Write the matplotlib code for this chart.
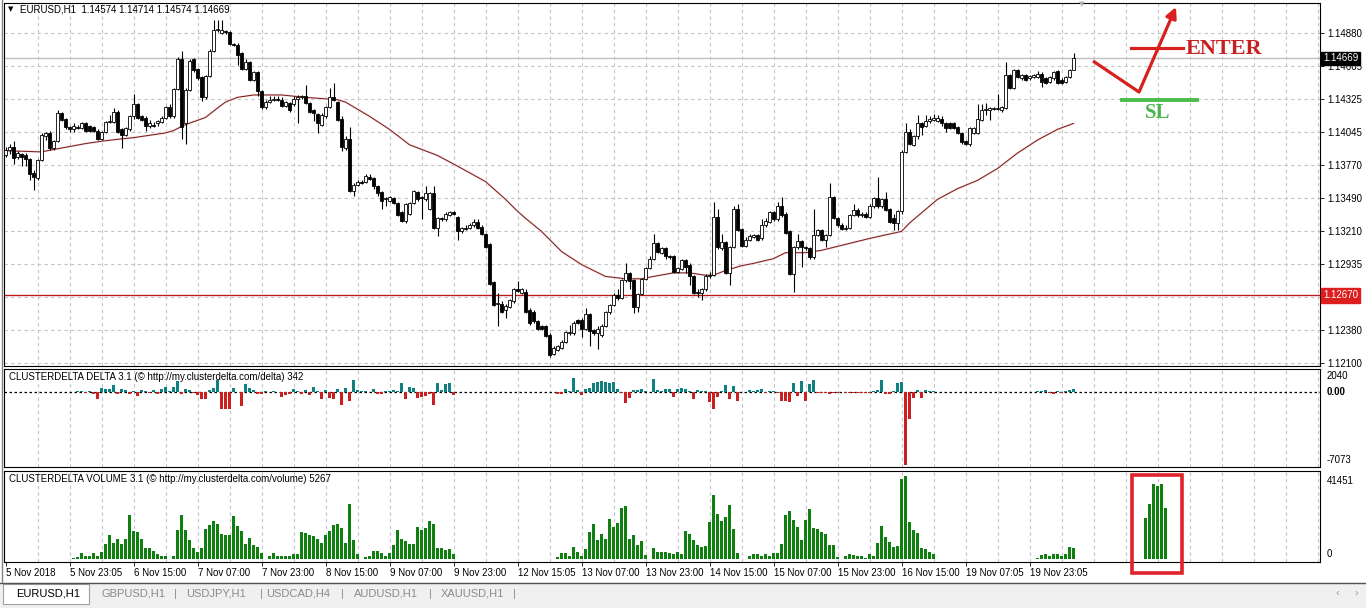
import numpy as np
import matplotlib
matplotlib.use("Agg")
import matplotlib.pyplot as plt
import matplotlib.transforms as mtransforms
from matplotlib.lines import Line2D
from matplotlib.patches import Rectangle, FancyArrowPatch

plt.rcParams['font.family'] = ['Liberation Sans', 'DejaVu Sans']

# ---------------- data ----------------
title_text = "EURUSD,H1  1.14574 1.14714 1.14574 1.14669"
delta_title = "CLUSTERDELTA DELTA 3.1 (\u00a9 http://my.clusterdelta.com/delta) 342"
volume_title = "CLUSTERDELTA VOLUME 3.1 (\u00a9 http://my.clusterdelta.com/volume) 5267"

opens = [
    1.1385, 1.1390, 1.1392, 1.1384, 1.1386, 1.1385, 1.1382, 1.1370, 1.1366, 1.1381,
    1.1401, 1.1404, 1.1391, 1.1397, 1.1421, 1.1416, 1.1409, 1.1407, 1.1409, 1.1408,
    1.1412, 1.1410, 1.1409, 1.1406, 1.1399, 1.1405, 1.1413, 1.1413, 1.1422, 1.1407,
    1.1402, 1.1407, 1.1418, 1.1428, 1.1418, 1.1417, 1.1410, 1.1411, 1.1412, 1.1413,
    1.1417, 1.1426, 1.1418, 1.1441, 1.1466, 1.1412, 1.1440, 1.1466, 1.1458, 1.1451,
    1.1434, 1.1452, 1.1473, 1.1491, 1.1488, 1.1490, 1.1489, 1.1479, 1.1478, 1.1471,
    1.1458, 1.1464, 1.1449, 1.1455, 1.1439, 1.1426, 1.1430, 1.1432, 1.1433, 1.1432,
    1.1427, 1.1429, 1.1428, 1.1433, 1.1434, 1.1435, 1.1429, 1.1423, 1.1420, 1.1411,
    1.1418, 1.1426, 1.1434, 1.1430, 1.1416, 1.1391, 1.1399, 1.1355, 1.1360, 1.1363,
    1.1363, 1.1367, 1.1366, 1.1359, 1.1354, 1.1348, 1.1347, 1.1349, 1.1345, 1.1337,
    1.1330, 1.1336, 1.1345, 1.1354, 1.1350, 1.1348, 1.1340, 1.1353, 1.1324, 1.1332,
    1.1331, 1.1335, 1.1337, 1.1333, 1.1321, 1.1324, 1.1324, 1.1326, 1.1329, 1.1325,
    1.1319, 1.1310, 1.1278, 1.1260, 1.1260, 1.1255, 1.1257, 1.1262, 1.1272, 1.1269,
    1.1270, 1.1255, 1.1253, 1.1245, 1.1241, 1.1241, 1.1234, 1.1218, 1.1221, 1.1223,
    1.1228, 1.1235, 1.1235, 1.1246, 1.1246, 1.1239, 1.1251, 1.1238, 1.1235, 1.1234,
    1.1241, 1.1253, 1.1259, 1.1267, 1.1265, 1.1280, 1.1286, 1.1280, 1.1257, 1.1268,
    1.1281, 1.1290, 1.1298, 1.1311, 1.1303, 1.1307, 1.1300, 1.1300, 1.1287, 1.1289,
    1.1297, 1.1293, 1.1283, 1.1270, 1.1269, 1.1272, 1.1283, 1.1284, 1.1333, 1.1307,
    1.1312, 1.1286, 1.1308, 1.1340, 1.1323, 1.1309, 1.1314, 1.1316, 1.1318, 1.1315,
    1.1326, 1.1329, 1.1337, 1.1331, 1.1342, 1.1336, 1.1321, 1.1285, 1.1308, 1.1313,
    1.1308, 1.1307, 1.1299, 1.1318, 1.1322, 1.1314, 1.1318, 1.1350, 1.1332, 1.1326,
    1.1323, 1.1324, 1.1335, 1.1339, 1.1335, 1.1336, 1.1333, 1.1342, 1.1349, 1.1342,
    1.1348, 1.1340, 1.1332, 1.1328, 1.1338, 1.1388, 1.1405, 1.1394, 1.1401, 1.1412,
    1.1410, 1.1414, 1.1415, 1.1414, 1.1416, 1.1412, 1.1412, 1.1412, 1.1409, 1.1404,
    1.1397, 1.1395, 1.1404, 1.1404, 1.1415, 1.1423, 1.1423, 1.1424, 1.1424, 1.1423,
    1.1425, 1.1453, 1.1442, 1.1457, 1.1450, 1.1453, 1.1450, 1.1451, 1.1451, 1.1454,
    1.1450, 1.1447, 1.1450, 1.1456, 1.1449, 1.1447, 1.1451, 1.14574,
]
highs = [
    1.1392, 1.1395, 1.1397, 1.1389, 1.1387, 1.1387, 1.1383, 1.1373, 1.1382, 1.1404,
    1.1405, 1.1406, 1.1398, 1.1423, 1.1422, 1.1417, 1.1410, 1.1412, 1.1411, 1.1413,
    1.1413, 1.1411, 1.1410, 1.1407, 1.1406, 1.1414, 1.1419, 1.1425, 1.1423, 1.1408,
    1.1409, 1.1419, 1.1437, 1.1429, 1.1419, 1.1418, 1.1415, 1.1413, 1.1415, 1.1418,
    1.1427, 1.1428, 1.1442, 1.1468, 1.1473, 1.1442, 1.1466, 1.1467, 1.1459, 1.1452,
    1.1453, 1.1475, 1.1499, 1.1499, 1.1499, 1.1491, 1.1490, 1.1480, 1.1480, 1.1472,
    1.1466, 1.1465, 1.1456, 1.1456, 1.1440, 1.1432, 1.1435, 1.1435, 1.1435, 1.1434,
    1.1431, 1.1430, 1.1435, 1.1436, 1.1436, 1.1444, 1.1430, 1.1424, 1.1421, 1.1421,
    1.1427, 1.1442, 1.1446, 1.1431, 1.1418, 1.1401, 1.1409, 1.1362, 1.1364, 1.1364,
    1.1369, 1.1369, 1.1367, 1.1360, 1.1355, 1.1350, 1.1351, 1.1350, 1.1346, 1.1338,
    1.1345, 1.1346, 1.1356, 1.1355, 1.1351, 1.1359, 1.1354, 1.1359, 1.1333, 1.1333,
    1.1337, 1.1338, 1.1338, 1.1334, 1.1325, 1.1326, 1.1328, 1.1331, 1.1331, 1.1326,
    1.1320, 1.1311, 1.1279, 1.1269, 1.1262, 1.1260, 1.1264, 1.1273, 1.1279, 1.1273,
    1.1272, 1.1256, 1.1255, 1.1246, 1.1242, 1.1242, 1.1235, 1.1224, 1.1225, 1.1229,
    1.1237, 1.1242, 1.1245, 1.1247, 1.1248, 1.1256, 1.1252, 1.1239, 1.1241, 1.1243,
    1.1254, 1.1260, 1.1269, 1.1272, 1.1281, 1.1294, 1.1287, 1.1281, 1.1269, 1.1282,
    1.1291, 1.1300, 1.1319, 1.1312, 1.1308, 1.1308, 1.1301, 1.1301, 1.1291, 1.1298,
    1.1298, 1.1294, 1.1284, 1.1272, 1.1273, 1.1285, 1.1287, 1.1346, 1.1340, 1.1319,
    1.1313, 1.1309, 1.1342, 1.1344, 1.1324, 1.1316, 1.1319, 1.1319, 1.1319, 1.1331,
    1.1332, 1.1338, 1.1338, 1.1346, 1.1350, 1.1337, 1.1322, 1.1309, 1.1319, 1.1314,
    1.1309, 1.1308, 1.1340, 1.1323, 1.1323, 1.1319, 1.1362, 1.1351, 1.1333, 1.1328,
    1.1326, 1.1336, 1.1344, 1.1341, 1.1337, 1.1337, 1.1344, 1.1350, 1.1367, 1.1349,
    1.1354, 1.1341, 1.1336, 1.1339, 1.1390, 1.1412, 1.1407, 1.1402, 1.1419, 1.1413,
    1.1419, 1.1418, 1.1420, 1.1419, 1.1418, 1.1413, 1.1413, 1.1413, 1.1410, 1.1405,
    1.1398, 1.1409, 1.1409, 1.1428, 1.1428, 1.1429, 1.1426, 1.1426, 1.1437, 1.1427,
    1.1464, 1.1454, 1.1458, 1.1458, 1.1454, 1.1454, 1.1453, 1.1454, 1.1456, 1.1455,
    1.1451, 1.1452, 1.1456, 1.1457, 1.1450, 1.1452, 1.1458, 1.14714,
]
lows = [
    1.1384, 1.1386, 1.1378, 1.1382, 1.1376, 1.1376, 1.1364, 1.1356, 1.1364, 1.1380,
    1.1398, 1.1390, 1.1390, 1.1396, 1.1414, 1.1407, 1.1405, 1.1405, 1.1407, 1.1407,
    1.1405, 1.1405, 1.1405, 1.1398, 1.1398, 1.1404, 1.1412, 1.1412, 1.1404, 1.1391,
    1.1401, 1.1406, 1.1416, 1.1416, 1.1414, 1.1406, 1.1408, 1.1409, 1.1410, 1.1412,
    1.1416, 1.1417, 1.1417, 1.1440, 1.1399, 1.1395, 1.1439, 1.1455, 1.1449, 1.1431,
    1.1433, 1.1451, 1.1472, 1.1489, 1.1487, 1.1487, 1.1478, 1.1477, 1.1461, 1.1457,
    1.1457, 1.1448, 1.1448, 1.1435, 1.1424, 1.1424, 1.1429, 1.1431, 1.1431, 1.1426,
    1.1426, 1.1422, 1.1427, 1.1412, 1.1433, 1.1428, 1.1421, 1.1414, 1.1404, 1.1410,
    1.1417, 1.1425, 1.1431, 1.1414, 1.1389, 1.1390, 1.1354, 1.1351, 1.1359, 1.1361,
    1.1362, 1.1364, 1.1357, 1.1351, 1.1340, 1.1342, 1.1346, 1.1344, 1.1334, 1.1329,
    1.1328, 1.1335, 1.1344, 1.1347, 1.1331, 1.1347, 1.1339, 1.1323, 1.1317, 1.1330,
    1.1330, 1.1334, 1.1335, 1.1314, 1.1320, 1.1322, 1.1323, 1.1325, 1.1323, 1.1318,
    1.1307, 1.1276, 1.1258, 1.1241, 1.1252, 1.1248, 1.1256, 1.1261, 1.1270, 1.1268,
    1.1252, 1.1242, 1.1244, 1.1238, 1.1238, 1.1232, 1.1215, 1.1217, 1.1220, 1.1222,
    1.1227, 1.1234, 1.1234, 1.1243, 1.1232, 1.1238, 1.1224, 1.1234, 1.1222, 1.1232,
    1.1240, 1.1251, 1.1258, 1.1263, 1.1264, 1.1278, 1.1272, 1.1252, 1.1253, 1.1267,
    1.1280, 1.1289, 1.1297, 1.1303, 1.1302, 1.1298, 1.1298, 1.1286, 1.1286, 1.1288,
    1.1286, 1.1276, 1.1268, 1.1266, 1.1263, 1.1271, 1.1282, 1.1283, 1.1306, 1.1305,
    1.1285, 1.1276, 1.1307, 1.1321, 1.1308, 1.1308, 1.1313, 1.1315, 1.1313, 1.1314,
    1.1325, 1.1328, 1.1330, 1.1330, 1.1333, 1.1319, 1.1284, 1.1270, 1.1306, 1.1291,
    1.1305, 1.1298, 1.1298, 1.1317, 1.1313, 1.1308, 1.1317, 1.1331, 1.1325, 1.1322,
    1.1322, 1.1323, 1.1334, 1.1333, 1.1333, 1.1332, 1.1332, 1.1341, 1.1341, 1.1341,
    1.1338, 1.1328, 1.1322, 1.1322, 1.1336, 1.1387, 1.1394, 1.1393, 1.1399, 1.1402,
    1.1409, 1.1412, 1.1414, 1.1413, 1.1410, 1.1405, 1.1407, 1.1407, 1.1403, 1.1395,
    1.1394, 1.1393, 1.1403, 1.1403, 1.1414, 1.1419, 1.1415, 1.1423, 1.1423, 1.1422,
    1.1424, 1.1441, 1.1441, 1.1450, 1.1449, 1.1448, 1.1449, 1.1450, 1.1450, 1.1443,
    1.1445, 1.1446, 1.1449, 1.1445, 1.1445, 1.1446, 1.1450, 1.14574,
]
closes = [
    1.1390, 1.1392, 1.1383, 1.1387, 1.1384, 1.1382, 1.1369, 1.1367, 1.1381, 1.1402,
    1.1404, 1.1391, 1.1397, 1.1421, 1.1415, 1.1409, 1.1407, 1.1410, 1.1408, 1.1412,
    1.1406, 1.1406, 1.1406, 1.1399, 1.1405, 1.1413, 1.1414, 1.1422, 1.1405, 1.1402,
    1.1408, 1.1418, 1.1428, 1.1417, 1.1415, 1.1410, 1.1412, 1.1410, 1.1414, 1.1417,
    1.1426, 1.1418, 1.1441, 1.1466, 1.1409, 1.1440, 1.1465, 1.1457, 1.1450, 1.1434,
    1.1452, 1.1473, 1.1491, 1.1492, 1.1491, 1.1489, 1.1479, 1.1478, 1.1470, 1.1458,
    1.1464, 1.1449, 1.1455, 1.1439, 1.1426, 1.1430, 1.1432, 1.1433, 1.1432, 1.1427,
    1.1430, 1.1423, 1.1433, 1.1434, 1.1435, 1.1429, 1.1422, 1.1421, 1.1412, 1.1419,
    1.1426, 1.1434, 1.1432, 1.1415, 1.1392, 1.1399, 1.1355, 1.1360, 1.1363, 1.1362,
    1.1368, 1.1365, 1.1359, 1.1353, 1.1347, 1.1349, 1.1350, 1.1345, 1.1335, 1.1330,
    1.1344, 1.1345, 1.1355, 1.1348, 1.1349, 1.1353, 1.1353, 1.1324, 1.1332, 1.1331,
    1.1336, 1.1337, 1.1336, 1.1321, 1.1324, 1.1323, 1.1326, 1.1329, 1.1324, 1.1319,
    1.1308, 1.1277, 1.1259, 1.1261, 1.1253, 1.1258, 1.1263, 1.1272, 1.1271, 1.1272,
    1.1253, 1.1244, 1.1245, 1.1239, 1.1239, 1.1233, 1.1217, 1.1223, 1.1224, 1.1228,
    1.1236, 1.1236, 1.1244, 1.1244, 1.1239, 1.1251, 1.1237, 1.1235, 1.1239, 1.1241,
    1.1253, 1.1259, 1.1267, 1.1265, 1.1280, 1.1286, 1.1279, 1.1257, 1.1268, 1.1281,
    1.1290, 1.1298, 1.1311, 1.1304, 1.1307, 1.1300, 1.1299, 1.1287, 1.1290, 1.1297,
    1.1291, 1.1283, 1.1269, 1.1269, 1.1272, 1.1283, 1.1284, 1.1333, 1.1308, 1.1312,
    1.1286, 1.1308, 1.1340, 1.1322, 1.1309, 1.1314, 1.1317, 1.1318, 1.1314, 1.1326,
    1.1330, 1.1337, 1.1331, 1.1342, 1.1335, 1.1320, 1.1285, 1.1308, 1.1313, 1.1308,
    1.1307, 1.1299, 1.1318, 1.1322, 1.1314, 1.1318, 1.1350, 1.1332, 1.1326, 1.1323,
    1.1324, 1.1335, 1.1339, 1.1335, 1.1336, 1.1333, 1.1342, 1.1349, 1.1342, 1.1348,
    1.1339, 1.1329, 1.1328, 1.1338, 1.1388, 1.1405, 1.1395, 1.1401, 1.1412, 1.1409,
    1.1414, 1.1416, 1.1417, 1.1417, 1.1412, 1.1408, 1.1408, 1.1408, 1.1404, 1.1396,
    1.1395, 1.1408, 1.1408, 1.1416, 1.1423, 1.1424, 1.1425, 1.1425, 1.1425, 1.1426,
    1.1453, 1.1442, 1.1457, 1.1451, 1.1453, 1.1449, 1.1452, 1.1453, 1.1454, 1.1447,
    1.1446, 1.1451, 1.1455, 1.1446, 1.1446, 1.1451, 1.1457, 1.14669,
]

# moving average read at sparse bar positions
ma_bars = [0, 9, 12, 20, 24, 29, 32, 40, 42, 45, 50, 53, 55, 58, 62, 69, 75, 83, 85, 91,
           96, 101, 108, 113, 120, 125, 128, 130, 134, 139, 144, 150, 155, 159, 162, 167,
           171, 175, 177, 180, 184, 187, 192, 195, 200, 204, 210, 216, 224, 226, 233, 238,
           243, 248, 253, 258, 263, 267]
ma_values = [1.1389, 1.1388, 1.1390, 1.1395, 1.1397, 1.1399, 1.1400, 1.1404, 1.1406, 1.1411,
             1.1417, 1.1425, 1.1430, 1.1434, 1.1436, 1.1436, 1.1434, 1.1432, 1.1430, 1.1418,
             1.1407, 1.1394, 1.1385, 1.1376, 1.1363, 1.1348, 1.1338, 1.1332, 1.1321, 1.1304,
             1.1293, 1.1283, 1.1281, 1.1281, 1.1283, 1.1286, 1.1286, 1.1284, 1.1284, 1.1288,
             1.1292, 1.1294, 1.1298, 1.1303, 1.1303, 1.1305, 1.1310, 1.1315, 1.1321, 1.1328,
             1.1348, 1.1357, 1.1364, 1.1374, 1.1387, 1.1398, 1.1407, 1.1412]

bid_price = 1.14669
level_price = 1.12670
price_ticks = [1.12100, 1.12380, 1.12655, 1.12935, 1.13210, 1.13490, 1.13770,
               1.14045, 1.14325, 1.14605, 1.14880]
hidden_tick = 1.12655   # its label sits under the 1.12670 marker

volume_cluster_a = [300, 1150, 2800, 1640, 1640, 2800, 1640, 3280, 7700, 12100,
                    8200, 10200, 7700, 10200, 22000, 13800, 13450, 9840, 5250, 5250,
                    3940, 2300, 1640, 1640, 0, 1640, 14270, 22000, 14270, 9350,
                    5580, 3600, 5250, 15100, 17000, 19200, 17500, 12600, 12100, 12100,
                    21300, 16400, 13800, 7700, 10500, 7200, 6070, 2800, 0, 1640,
                    2800, 1640, 1640, 1640, 1640, 2300, 2300, 13450, 13100, 11800,
                    11500, 10200, 8200, 11800, 13800, 17000, 17500, 15400, 8200, 27400,
                    9350, 2300, 0, 1150, 1640, 3940, 3940, 2800, 1640, 2800,
                    6900, 14270, 9840, 8860, 7700, 7700, 15900, 14270, 15400, 19200,
                    17500, 5580, 5580, 4430, 4920, 2300]                      # bars 17..112
volume_cluster_b = [1150, 2800, 2800, 1640, 6070, 3600, 1640, 4760, 13450, 17500,
                    9350, 12600, 10200, 20000, 15900, 18000, 25300, 26600, 9840, 12100,
                    6900, 8860, 1970, 0, 5580, 3600, 3280, 3280, 2950, 2300,
                    3280, 2300, 13800, 12600, 9350, 6900, 6070, 6560, 18400, 31800,
                    22500, 19200, 20800, 26900, 15100, 2800, 0, 0, 1640, 2300,
                    2300, 1640, 2300, 1640, 2800, 2800, 7700, 22000, 24100, 19700,
                    15900, 9350, 19700, 24900, 15400, 15100, 13450, 12600, 7200, 6900,
                    1150, 0, 1640, 2300, 1970, 1640, 1640, 660, 2300, 1640,
                    8200, 16400, 11000, 8530, 6070, 6560, 40000, 41451, 18400, 14270,
                    13100, 5580, 4920, 3600, 2300]                            # bars 138..232
volume_cluster_c = [660, 1970, 2300, 1640, 2300, 2300, 1640, 2300, 6070, 5580]  # bars 258..267
volume_cluster_d = [20300, 27400, 37700, 36700, 37700, 25700]                   # bars 285..290
volume = ([0] * 17 + volume_cluster_a + [0] * 25 + volume_cluster_b + [0] * 25
          + volume_cluster_c + [0] * 17 + volume_cluster_d)

delta_cluster_a = [100, 60, -130, 100, -225, -710, 420, 320, 260, 650,
                   -225, 260, 195, -195, 65, -390, 195, 100, -130, 160,
                   -195, 320, 515, 130, 515, 1065, -225, 260, 195, -130,
                   -320, -710, -710, 195, 420, 1160, -1680, -1680, -1680, 420,
                   40, -1360, 740, 420, 195, -225, -225, 65, 30, 65,
                   40, -450, -320, -225, 320, 130, -225, 195, -320, 515,
                   100, -645, 195, -550, -710, 320, -1290, 420, -870, 1160,
                   195, 100, 65, 30, 320, -225, -225, 65, 100, 195,
                   65, 900, -645, 515, 420, -550, -450, -390, -225, -1290,
                   900, 195, 740, 840, -320]                                  # bars 18..112
delta_cluster_b = [-225, -225, 260, 100, 1360, 195, -320, 260, 390, 840,
                   1030, 1100, 1030, 900, 970, 260, -130, -1030, -550, 195,
                   195, 260, 100, 0, 1290, 195, 130, 260, 320, -450,
                   320, 390, 260, 130, -645, 195, 100, 65, -970, -1680,
                   -450, 65, 645, -710, 580, -870, 0, 0, 195, 65,
                   195, 260, -130, 130, 65, -130, -870, -870, -1000, 900,
                   -390, 1065, -870, 740, 1160, -130, -130, -130, -200, -130,
                   -100, 0, -130, -130, -100, -130, -100, -65, -130, 130,
                   195, 1160, -225, -225, 100, 900, 970, -7073, -2580, -550,
                   195, -550, 195, 130, 65]                                   # bars 138..232
delta_cluster_c = [65, 130, 195, -130, -195, 100, -130, 130, 195, 260]          # bars 258..267
delta = ([0] * 18 + delta_cluster_a + [0] * 25 + delta_cluster_b + [0] * 25
         + delta_cluster_c)

x_label_bars = [0, 16, 32, 48, 64, 80, 96, 112, 128, 144, 160, 176, 192, 208, 224, 240, 256]
x_labels = ["5 Nov 2018", "5 Nov 23:05", "6 Nov 15:00", "7 Nov 07:00", "7 Nov 23:00",
            "8 Nov 15:00", "9 Nov 07:00", "9 Nov 23:00", "12 Nov 15:05", "13 Nov 07:00",
            "13 Nov 23:00", "14 Nov 15:00", "15 Nov 07:00", "15 Nov 23:00", "16 Nov 15:00",
            "19 Nov 07:05", "19 Nov 23:05"]

tabs = ["EURUSD,H1", "GBPUSD,H1", "USDJPY,H1", "USDCAD,H4", "AUDUSD,H1", "XAUUSD,H1"]

# ---------------- layout helpers ----------------
W, H = 1366, 608
fig = plt.figure(figsize=(W / 100, H / 100), dpi=100)
fig.patch.set_facecolor('white')


def fx(px):
    return px / W


def fy(py):
    return 1 - py / H


def rect(x0, y0, x1, y1):
    return [fx(x0), fy(y1), fx(x1) - fx(x0), fy(y0) - fy(y1)]


LEFT, RIGHT = 4, 1320
ax_p = fig.add_axes(rect(LEFT, 3, RIGHT, 366))
ax_d = fig.add_axes(rect(LEFT, 369, RIGHT, 467))
ax_v = fig.add_axes(rect(LEFT, 471, RIGHT, 562))

XLIM = ((LEFT - 5.5) / 4, (RIGHT - 5.5) / 4)
GRID = dict(color='#c4c4c4', lw=0.8, ls=(0, (3, 3)), zorder=0.5)
grid_bars = np.arange(8, 330, 8)

for ax in (ax_p, ax_d, ax_v):
    ax.set_xlim(*XLIM)
    for s in ax.spines.values():
        s.set_color('black')
        s.set_linewidth(0.8)
    for gb in grid_bars:
        ax.axvline(gb, **GRID)
    ax.set_facecolor('white')

# ---------------- price panel ----------------
o = np.array(opens)
h = np.array(highs)
l = np.array(lows)
c = np.array(closes)
xb = np.arange(len(c))
up = c >= o
lo_b = np.minimum(o, c)
hb = np.abs(c - o)

ax_p.set_ylim(1.120747, 1.151355)
for pt in price_ticks:
    ax_p.axhline(pt, **GRID)

ax_p.axhline(bid_price, color='#c0c0c0', lw=1.0, zorder=1)
ax_p.axhline(level_price, color='#f6dcdc', lw=1.8, zorder=1)
ax_p.axhline(level_price, color='#c01818', lw=0.8, zorder=1.1)

ax_p.plot(ma_bars, ma_values, color='#f6e2e2', lw=1.6, zorder=1.5)
ax_p.plot(ma_bars, ma_values, color='#7e1e1e', lw=0.75, zorder=1.6)

ax_p.vlines(xb, l, h, color='black', lw=0.8, zorder=3)
ax_p.bar(xb[up], hb[up], width=0.62, bottom=lo_b[up], facecolor='white',
         edgecolor='black', linewidth=0.6, zorder=4)
ax_p.bar(xb[~up], hb[~up], width=0.62, bottom=lo_b[~up], facecolor='black',
         edgecolor='black', linewidth=0.6, zorder=4)

ax_p.yaxis.tick_right()
ax_p.set_yticks(price_ticks)
ax_p.set_yticklabels(["" if v == hidden_tick else f"{v:.5f}" for v in price_ticks])
ax_p.tick_params(axis='y', direction='out', length=3, width=0.6, pad=2, labelsize=7)
ax_p.set_xticks([])

tr_p = mtransforms.blended_transform_factory(ax_p.transAxes, ax_p.transData)
xr = 1 + 3 / (RIGHT - LEFT)
ax_p.text(xr, bid_price, f"{bid_price:.5f}", transform=tr_p, ha='left', va='center',
          color='white', fontsize=7, zorder=10, clip_on=False,
          bbox=dict(boxstyle='square,pad=0.18', fc='black', ec='black'))
ax_p.text(xr, level_price, f"{level_price:.5f}", transform=tr_p, ha='left', va='center',
          color='white', fontsize=7, zorder=10, clip_on=False,
          bbox=dict(boxstyle='square,pad=0.22', fc='#dc1e1e', ec='#dc1e1e'))

# ---------------- delta panel ----------------
xd = np.arange(len(delta))
dv = np.array(delta)
dcol = np.where(dv > 0, '#118080', '#cc1f1f')
ax_d.bar(xd, dv, width=0.72, color=dcol, linewidth=0, zorder=3)
ax_d.set_ylim(-7300, 2250)
ax_d.axhline(0, color='black', lw=0.9, ls=(0, (2, 2)), zorder=2)
ax_d.set_xticks([])
ax_d.set_yticks([])
tr_d = mtransforms.blended_transform_factory(ax_d.transAxes, ax_d.transData)
xl = (1327 - LEFT) / (RIGHT - LEFT)
ax_d.text(xl, 2040, "2040", transform=tr_d, ha='left', va='top', fontsize=7, clip_on=False)
ax_d.text(xl, 0, "0.00", transform=tr_d, ha='left', va='center', fontsize=7,
          fontweight='bold', clip_on=False)
ax_d.text(xl, -7073, "-7073", transform=tr_d, ha='left', va='bottom', fontsize=7, clip_on=False)

# ---------------- volume panel ----------------
xv = np.arange(len(volume))
ax_v.bar(xv, volume, width=0.72, color='#0f800f', linewidth=0, zorder=3)
ax_v.set_ylim(-1500, 43950)
ax_v.set_yticks([])
tr_v = mtransforms.blended_transform_factory(ax_v.transAxes, ax_v.transData)
ax_v.text(xl, 41451, "41451", transform=tr_v, ha='left', va='top', fontsize=7, clip_on=False)
ax_v.text(xl, 0, "0", transform=tr_v, ha='left', va='bottom', fontsize=7, clip_on=False)
ax_v.set_xticks(x_label_bars)
ax_v.set_xticklabels(x_labels)
ax_v.tick_params(axis='x', direction='out', length=3, width=0.6, pad=1.5, labelsize=7)
for lab in ax_v.get_xticklabels():
    lab.set_ha('left')

# ---------------- texts ----------------
fig.text(fx(8), fy(9), "\u25bc", fontsize=5, family='DejaVu Sans', va='center', ha='left')
fig.text(fx(20), fy(9), title_text, fontsize=7, va='center', ha='left')
fig.text(fx(1079), fy(4), "\u25bc", fontsize=5, family='DejaVu Sans', color='#b0b0b0',
         va='center', ha='left')
fig.text(fx(9), fy(377), delta_title, fontsize=7, va='center', ha='left')
fig.text(fx(9), fy(479), volume_title, fontsize=7, va='center', ha='left')

# ---------------- tab bar ----------------
fig.add_artist(Rectangle((0, 0), 1, fy(583), transform=fig.transFigure,
                         facecolor='#f0f0f0', edgecolor='none', zorder=0))
fig.add_artist(Line2D([0, 1], [fy(582.5)] * 2, transform=fig.transFigure,
                      color='#505050', lw=1.0))
fig.add_artist(Rectangle((fx(3), fy(604)), fx(89) - fx(3), (604 - 584) / H,
                         transform=fig.transFigure, facecolor='white',
                         edgecolor='#a0a0a0', lw=0.8))
fig.text(fx(48), fy(594), tabs[0], fontsize=8, ha='center', va='center', color='black')
tab_x = [101, 186, 266, 354, 441]
sep_x = [174, 260, 341, 429, 513]
for t, tx in zip(tabs[1:], tab_x):
    fig.text(fx(tx), fy(594), t, fontsize=8, ha='left', va='center', color='#8a8a8a')
for sx in sep_x:
    fig.text(fx(sx), fy(594), "|", fontsize=8, ha='left', va='center', color='#8a8a8a')
fig.text(fx(1337), fy(593), "\u2039", fontsize=8, ha='center', va='center', color='#9a9a9a')
fig.text(fx(1356), fy(593), "\u203a", fontsize=8, ha='center', va='center', color='#9a9a9a')
fig.add_artist(Line2D([fx(1.5)] * 2, [fy(582), fy(0)], transform=fig.transFigure,
                      color='#808080', lw=1.0))

# ---------------- hand-drawn annotations ----------------
RED = '#d8201e'
fig.add_artist(Line2D([fx(1093), fx(1139)], [fy(61), fy(92)], transform=fig.transFigure,
                      color=RED, lw=2.3, solid_capstyle='butt'))
fig.add_artist(FancyArrowPatch((fx(1139), fy(92)), (fx(1176), fy(7)),
                               transform=fig.transFigure, arrowstyle='-|>',
                               mutation_scale=16, lw=2.3, color=RED,
                               shrinkA=0, shrinkB=0))
fig.add_artist(Line2D([fx(1131), fx(1183)], [fy(48), fy(48)], transform=fig.transFigure,
                      color=RED, lw=2.3))
fig.text(fx(1186), fy(49), "ENTER", fontsize=16, family='Liberation Serif',
         fontweight='bold', color='#c81e1e', ha='left', va='center')
fig.add_artist(Line2D([fx(1122), fx(1197)], [fy(100), fy(100)], transform=fig.transFigure,
                      color='#4cbc4c', lw=2.8))
fig.text(fx(1158), fy(113), "SL", fontsize=15, family='Liberation Serif',
         fontweight='bold', color='#4cb44c', ha='center', va='center')
fig.add_artist(Rectangle((fx(1132), fy(573)), fx(1182) - fx(1132), (573 - 475) / H,
                         transform=fig.transFigure, facecolor='none',
                         edgecolor='#e0222a', lw=2.6))

fig.savefig("out.png", dpi=100, facecolor='white')
